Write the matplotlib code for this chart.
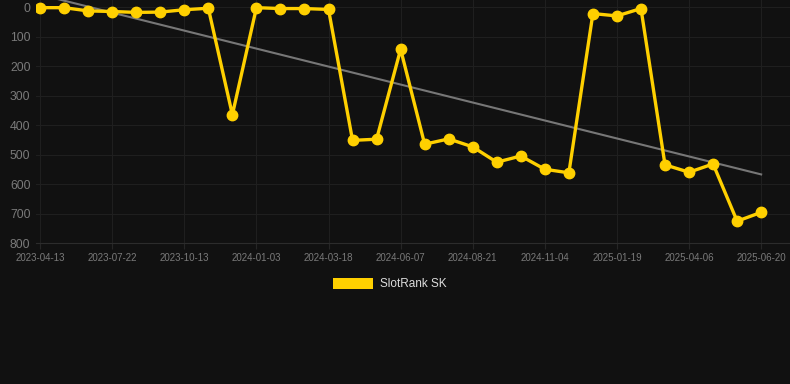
import numpy as np
import matplotlib
matplotlib.use("Agg")
import matplotlib.pyplot as plt
from matplotlib.patches import Patch

# datos
etiquetas = ["2023-04-13", "2023-07-22", "2023-10-13", "2024-01-03", "2024-03-18", "2024-06-07",
             "2024-08-21", "2024-11-04", "2025-01-19", "2025-04-06", "2025-06-20"]
rango = [2, 2, 13, 15, 18, 17, 9, 4, 365, 2, 5, 5, 8, 452, 448, 143, 465, 447, 474, 526,
         505, 550, 562, 22, 30, 5, 535, 560, 532, 726, 696]
serie = "SlotRank SK"

plt.rcParams['font.family'] = ['Liberation Sans', 'DejaVu Sans']

fondo = '#111111'
fig = plt.figure(figsize=(7.9, 3.84), dpi=100, facecolor=fondo)
ax = fig.add_axes([36/790, 1 - 243/384, 1 - 36/790, 243/384])
ax.set_facecolor(fondo)

x = np.arange(len(rango))
# linea de tendencia
m, b = np.polyfit(x, rango, 1)
ax.plot(x, m * x + b, color='#777777', lw=1.5, zorder=2)
ax.plot(x, rango, color='#FFD000', lw=2.4, marker='o', markersize=7.5, zorder=3)

ax.set_ylim(800, -24)
ax.set_xlim(-0.17, 31.2)
ax.set_yticks(range(0, 801, 100))
ax.set_xticks(x[::3])
ax.set_xticklabels(etiquetas)
ax.tick_params(axis='y', colors='#7a7a7a', labelsize=8.8, length=0, pad=4)
ax.tick_params(axis='x', colors='#7a7a7a', labelsize=7, length=4, pad=3)
ax.tick_params(axis='x', color='#262626')
ax.grid(True, color='#1f1f1f', lw=0.8)
for s in ax.spines.values():
    s.set_visible(False)
ax.spines['bottom'].set_visible(True)
ax.spines['bottom'].set_color('#2c2c2c')

fig.legend(handles=[Patch(facecolor='#FFD000', edgecolor='none', label=serie)],
           loc='center', bbox_to_anchor=(390/790, 1 - 284/384), frameon=False,
           handlelength=3.4, handleheight=1.1, handletextpad=0.6,
           labelcolor='#dddddd', fontsize=8.5)

plt.savefig('out.png', dpi=100, facecolor=fondo)
